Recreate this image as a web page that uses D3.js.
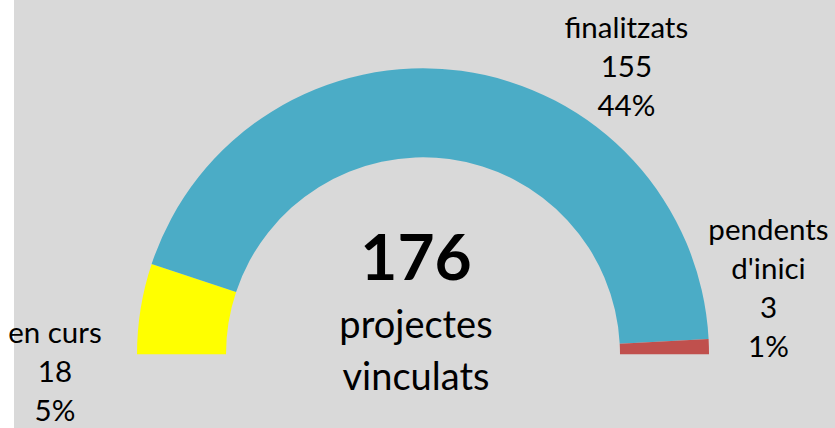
<!DOCTYPE html>
<html>
<head>
<meta charset="utf-8">
<script src="https://cdn.jsdelivr.net/npm/d3@7"></script>
<style>
  html, body { margin: 0; padding: 0; background: #ffffff; }
  svg { display: block; font-family: Lato, "Open Sans", sans-serif; }
</style>
</head>
<body>
<svg id="chart" width="835" height="428"></svg>
<script>
// Project status counts
const categories = ["en curs", "finalitzats", "pendents d'inici"];
const labelLines = [["en curs"], ["finalitzats"], ["pendents", "d'inici"]];
const values = [18, 155, 3];
const colors = ["#FFFF00", "#4BACC6", "#C0504D"];
const centerCaption = ["projectes", "vinculats"];

const W = 835, H = 428;
const svg = d3.select("#chart");

// Plot background
svg.append("rect").attr("x", 14).attr("y", 0).attr("width", W - 14).attr("height", H)
  .attr("fill", "#D9D9D9");

const cx = 423, cy = 354.3;
const outerR = 286, innerR = 197;

const total = d3.sum(values);
// Half-doughnut: the visible half holds the data, shares are taken over the full ring
const pie = d3.pie().sort(null).value(d => d)
  .startAngle(-Math.PI / 2).endAngle(Math.PI / 2);
const arcs = pie(values);
const arc = d3.arc().innerRadius(innerR).outerRadius(outerR);

const g = svg.append("g").attr("transform", `translate(${cx},${cy})`);
g.selectAll("path.slice").data(arcs).join("path")
  .attr("class", "slice")
  .attr("d", arc)
  .attr("fill", (d, i) => colors[i]);

// Data labels: name, value, share of the full ring
const pct = d3.format(".0%");
const lineH = 38.8;
const labelAnchor = [
  { x: cx - outerR * 1.287, y: cy - 11.3 },   // left, beside the bottom of the ring
  { x: cx + outerR * 0.711, y: cy - outerR * 1.106 },
  { x: cx + outerR * 1.208, y: cy - outerR * 0.399 }
];
const fmtCount = d3.format("d");
arcs.forEach((a, i) => {
  const lines = labelLines[i].concat([fmtCount(a.value), pct(a.value / (2 * total))]);
  const t = svg.append("text")
    .attr("text-anchor", "middle")
    .attr("font-size", 29.5)
    .attr("fill", "#000");
  lines.forEach((s, k) => {
    t.append("tspan").attr("x", labelAnchor[i].x)
      .attr("y", labelAnchor[i].y + k * lineH).text(s);
  });
});

// Centre total
const textX = cx - 7;
svg.append("text")
  .attr("x", textX).attr("y", cy - 74)
  .attr("text-anchor", "middle")
  .attr("font-size", 64).attr("font-weight", 700)
  .attr("fill", "#000")
  .text(fmtCount(total));
centerCaption.forEach((s, k) => {
  svg.append("text")
    .attr("x", textX).attr("y", cy - 16 + k * 52)
    .attr("text-anchor", "middle")
    .attr("font-size", 38)
    .attr("fill", "#000")
    .text(s);
});
</script>
</body>
</html>
